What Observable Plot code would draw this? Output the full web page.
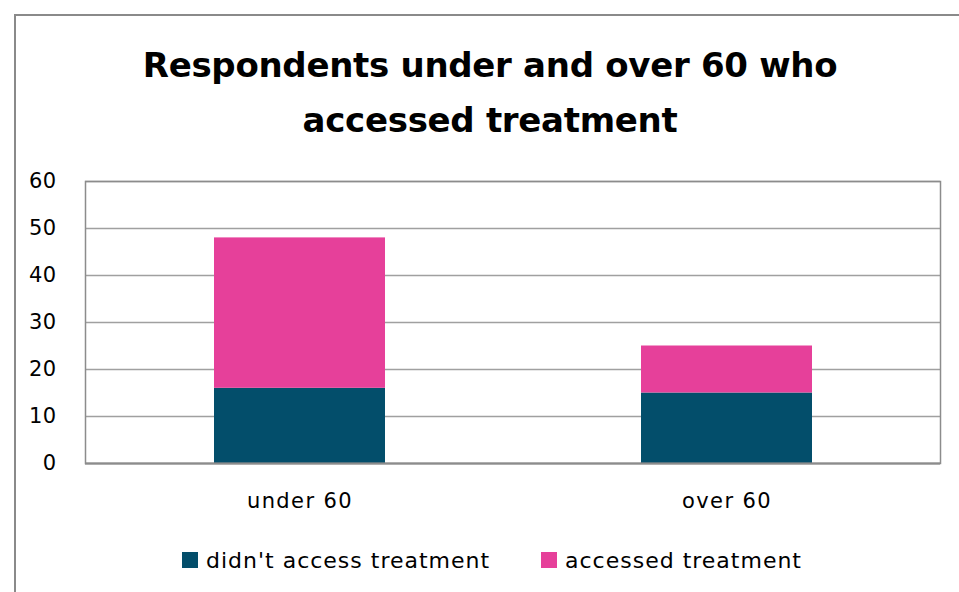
<!DOCTYPE html>
<html>
<head>
<meta charset="utf-8">
<script src="https://cdn.jsdelivr.net/npm/d3@7"></script>
<script src="https://cdn.jsdelivr.net/npm/@observablehq/plot@0.6"></script>
<style>
  html, body { margin: 0; padding: 0; background: #fff; width: 959px; height: 592px; overflow: hidden; }
  body { position: relative; font-family: "DejaVu Sans", sans-serif; color: #000; }
  #frame { position: absolute; left: 14px; top: 14px; width: 1000px; height: 700px; border-left: 2px solid #8a8a8a; border-top: 2px solid #8a8a8a; box-sizing: border-box; }
  #title { position: absolute; left: 14px; top: 38px; width: 952px; text-align: center; font-weight: 700; font-size: 34px; line-height: 55px; letter-spacing: -0.3px; }
  #chart { position: absolute; left: 0; top: 160px; }
  #legend { position: absolute; left: 0; top: 545px; width: 959px; height: 30px; }
  .item { position: absolute; top: 0; display: flex; align-items: center; font-size: 22px; letter-spacing: 1px; height: 30px; }
  .sw { width: 16px; height: 16px; margin-right: 8px; }
  #chart svg text { letter-spacing: 0.4px; }
  #chart svg g[aria-label="x-axis tick label"] text { letter-spacing: 1.4px; }
</style>
</head>
<body>
<div id="frame"></div>
<div id="title">Respondents under and over 60 who<br>accessed treatment</div>
<div id="chart"></div>
<div id="legend"></div>
<script>
const categories = ["under 60", "over 60"];
const seriesNames = ["didn't access treatment", "accessed treatment"];
const didntAccess = [16, 15];
const accessed = [32, 10];
const colors = ["#034e6b", "#e6409a"];
const yTicks = [0, 10, 20, 30, 40, 50, 60];

const seriesValues = [didntAccess, accessed];
const rows = [];
seriesNames.forEach((s, si) => {
  categories.forEach((c, ci) => rows.push({category: c, series: s, value: seriesValues[si][ci]}));
});

const plot = Plot.plot({
  width: 959,
  height: 358,
  marginTop: 21,
  marginBottom: 55,
  marginLeft: 85,
  marginRight: 19,
  style: {fontFamily: "'DejaVu Sans', sans-serif", fontSize: "21px", color: "#000", background: "transparent"},
  color: {domain: seriesNames, range: colors},
  x: {domain: categories, paddingInner: 0.6, paddingOuter: 0.3},
  y: {domain: [0, 60]},
  marks: [
    Plot.gridY(yTicks, {stroke: "#a0a0a0", strokeOpacity: 1, strokeWidth: 1.5}),
    Plot.barY(rows, {x: "category", y: "value", fill: "series", order: seriesNames}),
    Plot.axisY(yTicks, {tickSize: 0, tickPadding: 29, label: null, fontSize: 21}),
    Plot.axisX({tickSize: 0, tickPadding: 30, label: null, fontSize: 21}),
    Plot.frame({stroke: "#8c8c8c", strokeWidth: 1.5}),
    Plot.ruleY([0], {stroke: "#8c8c8c", strokeWidth: 2})
  ]
});
document.getElementById("chart").appendChild(plot);

const legend = document.getElementById("legend");
const lx = [182, 541];
seriesNames.forEach((s, i) => {
  const d = document.createElement("div");
  d.className = "item";
  d.style.left = lx[i] + "px";
  d.innerHTML = `<span class="sw" style="background:${colors[i]}"></span><span>${s}</span>`;
  legend.appendChild(d);
});
</script>
</body>
</html>
